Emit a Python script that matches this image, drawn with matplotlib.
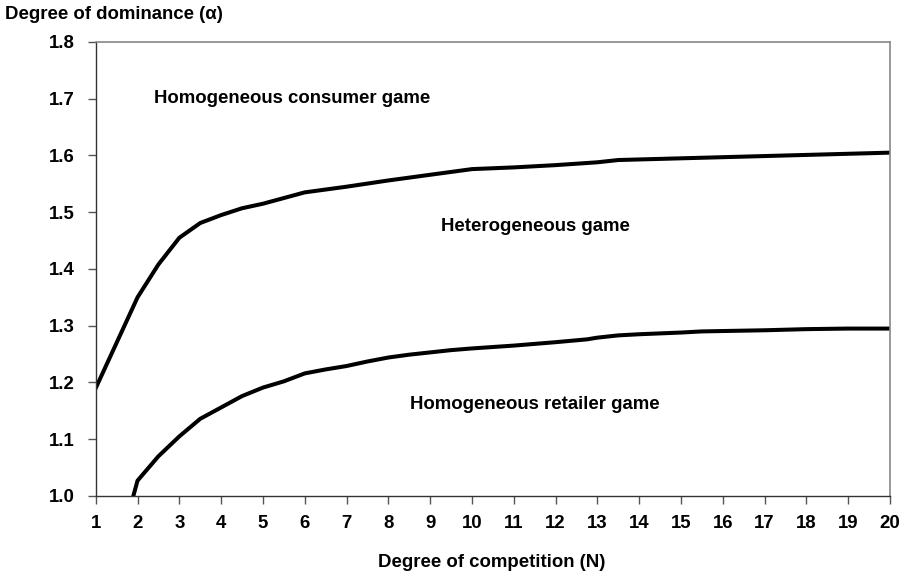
"""Degree of dominance vs degree of competition: game-region boundaries."""

import matplotlib
matplotlib.use("Agg")
import matplotlib.pyplot as plt

# upper boundary (consumer game / heterogeneous game)
n_upper = [1, 1.5, 2, 2.5, 3, 3.5, 4, 4.5, 5, 5.5, 6, 7, 8, 9, 10, 11, 12,
           13, 13.5, 14, 15, 16, 17, 18, 19, 20]
alpha_upper = [1.19, 1.27, 1.35, 1.408, 1.455, 1.481, 1.495, 1.507, 1.515,
               1.525, 1.535, 1.545, 1.556, 1.566, 1.576, 1.579, 1.583, 1.588,
               1.592, 1.593, 1.595, 1.597, 1.599, 1.601, 1.603, 1.605]

# lower boundary (heterogeneous game / retailer game)
n_lower = [1.9, 2, 2.5, 3, 3.5, 4, 4.5, 5, 5.5, 6, 6.5, 7, 7.5, 8, 8.5, 9,
           9.5, 10, 11, 12, 12.75, 13, 13.5, 14, 15, 15.5, 17, 18, 19, 20]
alpha_lower = [1.0, 1.027, 1.07, 1.105, 1.136, 1.156, 1.176, 1.191, 1.202,
               1.216, 1.223, 1.229, 1.237, 1.244, 1.249, 1.253, 1.257, 1.260,
               1.265, 1.271, 1.276, 1.279, 1.283, 1.285, 1.288, 1.290, 1.292,
               1.294, 1.295, 1.295]

x_ticks = list(range(1, 21))
y_ticks = [1.0, 1.1, 1.2, 1.3, 1.4, 1.5, 1.6, 1.7, 1.8]

region_labels = ["Homogeneous consumer game", "Heterogeneous game",
                 "Homogeneous retailer game"]
region_pos = [(2.4, 1.70), (9.25, 1.474), (8.52, 1.161)]

plt.rcParams["font.family"] = ["Liberation Sans", "DejaVu Sans"]
plt.rcParams["font.weight"] = "bold"
FS = 13.4

fig = plt.figure(figsize=(9.09, 5.72), dpi=100)
ax = fig.add_axes([0.1053, 0.1329, 0.9791 - 0.1053, 0.9266 - 0.1329])

ax.plot(n_upper, alpha_upper, color="black", lw=2.9, solid_joinstyle="round")
ax.plot(n_lower, alpha_lower, color="black", lw=2.9, solid_joinstyle="round")

ax.set_xlim(1, 20)
ax.set_ylim(1.0, 1.8)
ax.set_xticks(x_ticks)
ax.set_xticklabels([str(v) for v in x_ticks], fontsize=FS, fontweight="bold")
ax.set_yticks(y_ticks)
ax.set_yticklabels([f"{v:.1f}" for v in y_ticks], fontsize=FS,
                   fontweight="bold")
ax.tick_params(direction="out", length=6, width=1, color="#555555")
ax.tick_params(axis="x", pad=8)
ax.tick_params(axis="y", pad=9)

for side in ["top", "right"]:
    ax.spines[side].set_color("#888888")
    ax.spines[side].set_linewidth(1.2)
for side in ["left", "bottom"]:
    ax.spines[side].set_color("#333333")
    ax.spines[side].set_linewidth(1.0)

for txt, (x, y) in zip(region_labels, region_pos):
    ax.text(x, y, txt, fontsize=FS, fontweight="bold", ha="left", va="center")

fig.text(0.006, 0.974, "Degree of dominance (α)", fontsize=FS,
         fontweight="bold", ha="left", va="center")
fig.text(0.541, 0.017, "Degree of competition (N)", fontsize=FS,
         fontweight="bold", ha="center", va="center")

fig.savefig("out.png", dpi=100)
